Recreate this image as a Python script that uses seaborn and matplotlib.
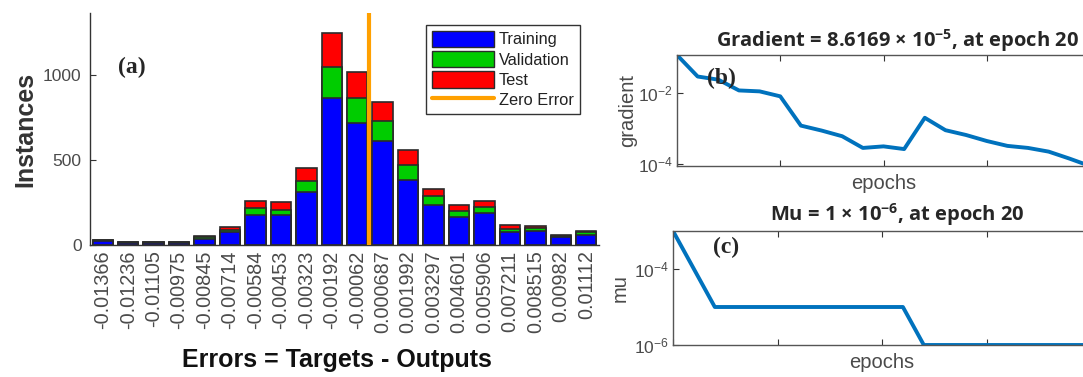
import numpy as np
import pandas as pd
import matplotlib
matplotlib.use("Agg")
import matplotlib.pyplot as plt
from matplotlib.patches import Patch
from matplotlib.lines import Line2D
import seaborn as sns

# ---- error histogram data (20 bins) ----
bin_centers = [-0.01366, -0.01236, -0.01105, -0.00975, -0.00845, -0.00714,
               -0.00584, -0.00453, -0.00323, -0.00192, -0.00062, 0.000687,
               0.001992, 0.003297, 0.004601, 0.005906, 0.007211, 0.008515,
               0.00982, 0.01112]
bin_labels = ["-0.01366", "-0.01236", "-0.01105", "-0.00975", "-0.00845",
              "-0.00714", "-0.00584", "-0.00453", "-0.00323", "-0.00192",
              "-0.00062", "0.000687", "0.001992", "0.003297", "0.004601",
              "0.005906", "0.007211", "0.008515", "0.00982", "0.01112"]
training = [22, 14, 14, 13, 37, 74, 178, 178, 312, 863, 716, 614, 384, 237,
            165, 186, 75, 84, 45, 61]
validation = [5, 2, 2, 3, 9, 14, 42, 30, 64, 182, 147, 115, 89, 53, 37, 36,
              19, 16, 10, 13]
test = [5, 2, 2, 2, 9, 16, 41, 45, 75, 202, 157, 110, 88, 37, 35, 39, 26,
        12, 6, 10]

# ---- training record (epochs 0..20) ----
epochs = list(range(21))
gradient = [0.12, 0.0295, 0.024, 0.0119, 0.0112, 0.0081, 0.0012, 0.00087,
            0.0006, 0.00028, 0.00031, 0.00026, 0.002, 0.00089, 0.00065,
            0.00044, 0.00032, 0.00028, 0.00022, 0.00014, 8.6169e-5]
mu = [1e-3, 1e-4, 1e-5, 1e-5, 1e-5, 1e-5, 1e-5, 1e-5, 1e-5, 1e-5, 1e-5,
      1e-5, 1e-6, 1e-6, 1e-6, 1e-6, 1e-6, 1e-6, 1e-6, 1e-6, 1e-6]

sns.set_style("ticks")
plt.rcParams["font.family"] = ["Liberation Sans", "DejaVu Sans"]
plt.rcParams["mathtext.fontset"] = "custom"
plt.rcParams["mathtext.rm"] = "Open Sans"
plt.rcParams["mathtext.bf"] = "Open Sans:bold"

W, H = 1083, 377
fig = plt.figure(figsize=(W / 100, H / 100), dpi=100)

def box(l, t, r, b):
    return [l / W, 1 - b / H, (r - l) / W, (b - t) / H]

AX_COL = "#333333"
LBL_COL = "#4a4a4a"
BLUE, GREEN, RED, ORANGE = "#0000FF", "#00CC00", "#FF0000", "#FFA000"
EDGE = "#2b2b2b"

# ---------------- (a) error histogram ----------------
ax = fig.add_axes(box(90, 13, 599, 245))
df = pd.DataFrame({"bin": bin_labels,
                   "train": training,
                   "val": np.add(training, validation),
                   "total": np.add(np.add(training, validation), test)})
for col, colr in [("total", RED), ("val", GREEN), ("train", BLUE)]:
    sns.barplot(data=df, x="bin", y=col, order=bin_labels, color=colr,
                saturation=1, width=0.8, edgecolor=EDGE, linewidth=1.2,
                ax=ax)
pos = np.arange(len(bin_centers))
zero_x = np.interp(0.0, bin_centers, pos)
ax.axvline(zero_x, color=ORANGE, lw=3.0, zorder=5)
ax.set_xlim(-0.5, len(bin_centers) - 0.5)
ax.set_ylim(0, 1365)
ax.set_yticks([0, 500, 1000])
ax.tick_params(axis="y", direction="in", length=4, labelsize=12.5,
               labelcolor=LBL_COL, color=AX_COL, pad=6)
ax.tick_params(axis="x", length=0, labelsize=14.3, labelcolor=LBL_COL,
               rotation=90, pad=4)
for s in ["top", "right"]:
    ax.spines[s].set_visible(False)
for s in ["left", "bottom"]:
    ax.spines[s].set_color(AX_COL)
    ax.spines[s].set_linewidth(1.0)
ax.set_ylabel("Instances", fontsize=18, fontweight="bold", color="#333333")
ax.yaxis.set_label_coords(-0.104, 0.5)
ax.set_xlabel("Errors = Targets - Outputs", fontsize=18, fontweight="bold",
              color="#111111")
ax.xaxis.set_label_coords(0.485, -0.444)
ax.text(132 / W, 1 - 67 / H, "(a)", transform=fig.transFigure,
        family="Liberation Serif", fontweight="bold", fontsize=17,
        ha="center", va="center")

handles = [Patch(facecolor=BLUE, edgecolor=EDGE, lw=1.0),
           Patch(facecolor=GREEN, edgecolor=EDGE, lw=1.0),
           Patch(facecolor=RED, edgecolor=EDGE, lw=1.0),
           Line2D([], [], color=ORANGE, lw=3.0)]
leg = fig.legend(handles, ["Training", "Validation", "Test", "Zero Error"],
                 loc="upper left", bbox_to_anchor=(426 / W, 1 - 25 / H),
                 bbox_transform=fig.transFigure, borderaxespad=0,
                 fontsize=11.8, handlelength=3.8, handleheight=1.15,
                 handletextpad=0.3, labelspacing=0.22, borderpad=0.35,
                 fancybox=False, framealpha=1, edgecolor="#333333",
                 labelcolor="#222222")
leg.get_frame().set_linewidth(1.0)

# ---------------- (b) gradient ----------------
LINE = "#0072BD"

def style_perf(a, ylab):
    a.set_yscale("log")
    a.set_xlim(0, 20)
    a.set_xticks([0, 5, 10, 15, 20])
    a.set_xticklabels([])
    a.minorticks_off()
    a.tick_params(axis="both", direction="in", length=4, color=AX_COL,
                  top=True, right=True, labelsize=12.5, labelcolor=LBL_COL,
                  pad=3)
    for s in a.spines.values():
        s.set_color("#555555")
        s.set_linewidth(1.0)
    a.set_ylabel(ylab, fontsize=14.5, color=LBL_COL)
    a.set_xlabel("epochs", fontsize=14.5, color=LBL_COL, labelpad=3)

axg = fig.add_axes(box(677, 55, 1090, 166))
sns.lineplot(x=epochs, y=gradient, ax=axg, color=LINE, lw=2.8)
style_perf(axg, "gradient")
axg.set_ylim(min(gradient), max(gradient))
axg.set_yticks([1e-4, 1e-2])
axg.yaxis.set_label_coords(-0.097, 0.5)
axg.set_title(r"Gradient = 8.6169 × 10$^{\mathbf{-5}}$, at epoch 20",
              family="Open Sans", fontweight="bold", fontsize=14.5,
              x=0.533, pad=6)
axg.text(721 / W, 1 - 78 / H, "(b)", transform=fig.transFigure,
         family="Liberation Serif", fontweight="bold", fontsize=17,
         ha="center", va="center")

# ---------------- (c) mu ----------------
axm = fig.add_axes(box(673, 231, 1091, 345))
sns.lineplot(x=epochs, y=mu, ax=axm, color=LINE, lw=2.8)
style_perf(axm, "mu")
axm.set_ylim(min(mu), max(mu))
axm.set_yticks([1e-6, 1e-4])
axm.yaxis.set_label_coords(-0.103, 0.5)
axm.set_title(r"Mu = 1 × 10$^{\mathbf{-6}}$, at epoch 20",
              family="Open Sans", fontweight="bold", fontsize=14.5,
              x=0.536, pad=7)
axm.text(726 / W, 1 - 247 / H, "(c)", transform=fig.transFigure,
         family="Liberation Serif", fontweight="bold", fontsize=17,
         ha="center", va="center")

fig.savefig("out.png", dpi=100)
